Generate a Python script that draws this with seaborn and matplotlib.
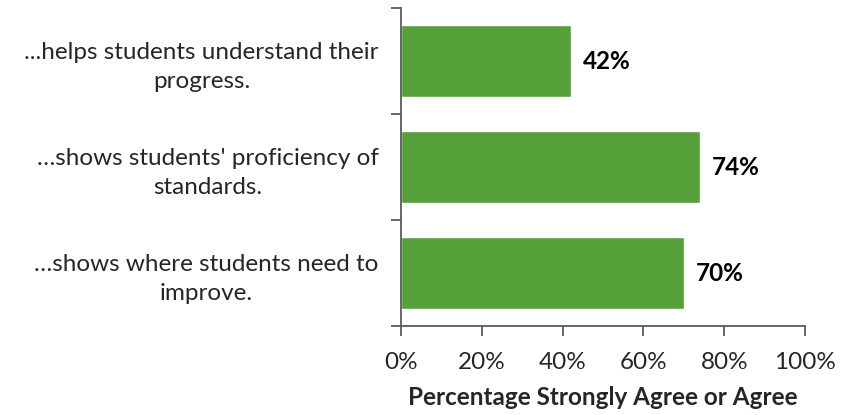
import pandas as pd
import numpy as np
import matplotlib
matplotlib.use('Agg')
import matplotlib.pyplot as plt
from matplotlib.ticker import FixedLocator, PercentFormatter
import seaborn as sns

# data
labels = ["...helps students understand their\nprogress.",
          "…shows students' proficiency of\nstandards.",
          "…shows where students need to\nimprove."]
values = [42, 74, 70]
xticks = [0, 20, 40, 60, 80, 100]

df = pd.DataFrame({'item': labels, 'pct': values})

sns.set_style('white')
plt.rcParams['font.family'] = ['Lato', 'DejaVu Sans']

fig = plt.figure(figsize=(8.5, 4.15), dpi=100)
ax = fig.add_axes([401/850, 1-326/415, 404/850, 318/415])

sns.barplot(data=df, x='pct', y='item', color='#56A03A', saturation=1,
            width=0.67, ax=ax, orient='h')

ax.set_xlim(0, 100)
ax.set_ylim(2.5, -0.5)
ax.set_xticks(xticks)
ax.xaxis.set_major_formatter(PercentFormatter(decimals=0))

# value labels
for i, v in enumerate(values):
    ax.text(v + 3, i, f"{v}%", va='center', ha='left', fontsize=17.5, fontweight='bold', color='black')

# ticks at category boundaries
ax.yaxis.set_minor_locator(FixedLocator([-0.5, 0.5, 1.5, 2.5]))
ax.tick_params(axis='y', which='major', length=0, pad=16, labelsize=17.5)
ax.tick_params(axis='y', which='minor', length=7, width=1.3, color='#5a5a5a', direction='out', left=True)
ax.tick_params(axis='x', which='major', length=7, width=1.3, color='#5a5a5a', direction='out', bottom=True, labelsize=17.5, pad=12)
for lab in ax.get_yticklabels():
    lab.set_multialignment('center')
    lab.set_linespacing(1.45)

for s in ['top', 'right']:
    ax.spines[s].set_visible(False)
for s in ['left', 'bottom']:
    ax.spines[s].set_color('#5a5a5a')
    ax.spines[s].set_linewidth(1.3)

ax.set_ylabel('')
ax.set_xlabel('Percentage Strongly Agree or Agree', fontsize=17.5, fontweight='bold', labelpad=9)

fig.savefig('out.png', dpi=100)
